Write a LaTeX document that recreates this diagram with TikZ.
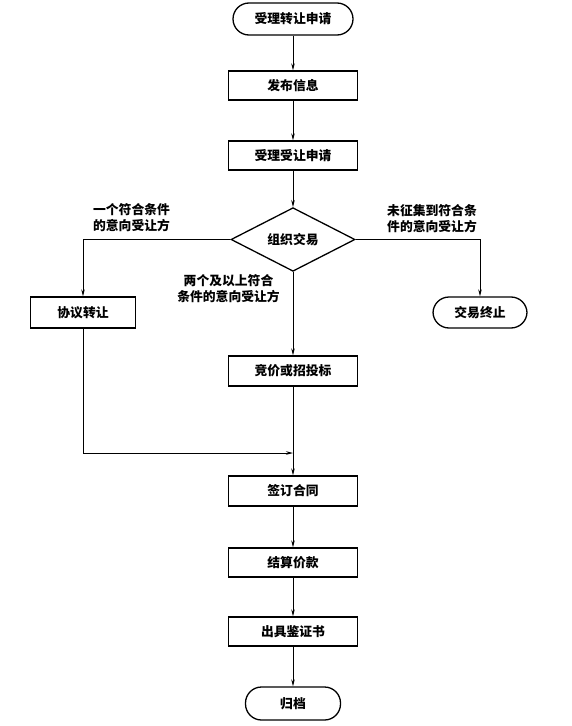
\documentclass[tikz,border=0pt]{standalone}
\usepackage{fontspec}
\setmainfont{Noto Sans CJK SC}
\usepackage{tikz}
\usetikzlibrary{shapes.geometric,arrows.meta}
\tikzstyle{block}=[rectangle,draw,line width=1.3bp,minimum width=129bp,minimum height=29bp,inner sep=0pt]
\tikzstyle{term}=[rectangle,draw,rounded corners=16bp,line width=1.3bp,minimum height=32bp,inner sep=0pt]
\tikzstyle{decision}=[diamond,draw,line width=1.3bp,minimum width=124bp,minimum height=61bp,inner sep=0pt]
\tikzstyle{link}=[line width=0.8bp,-{Stealth[length=7bp,width=3.5bp]}]

\begin{document}
\begin{tikzpicture}[x=1bp,y=-1bp,font=\fontsize{12.8bp}{16bp}\selectfont\bfseries]
\useasboundingbox (0,0) rectangle (572,726);

\node[term,minimum width=120bp] (start) at (293,19) {受理转让申请};
\node[block] (fabu) at (293,85.5) {发布信息};
\node[block] (shouli) at (293,155.5) {受理受让申请};
\node[decision] (zuzhi) at (293,239.5) {组织交易};
\node[block,minimum width=105bp,minimum height=31bp] (xieyi) at (83,312.5) {协议转让};
\node[term,minimum width=94bp,minimum height=31bp] (zhongzhi) at (480,312.5) {交易终止};
\node[block,minimum height=30bp] (jingjia) at (293,371) {竞价或招投标};
\node[block,minimum height=30bp] (qianding) at (293,491) {签订合同};
\node[block] (jiesuan) at (293,562.5) {结算价款};
\node[block] (chuju) at (293,631.5) {出具鉴证书};
\node[term,minimum width=95bp,minimum height=33bp] (guidang) at (293,703.5) {归档};
\coordinate (merge) at (293,453);

\node[align=center] (l1) at (131.5,218) {一个符合条件\\的意向受让方};
\node[align=center] (l2) at (228.5,289) {两个及以上符合\\条件的意向受让方};
\node[align=center] (l3) at (432,219) {未征集到符合条\\件的意向受让方};

\draw[link] (start) -- (fabu);
\draw[link] (fabu) -- (shouli);
\draw[link] (shouli) -- (zuzhi);
\draw[link] (zuzhi.west) -| (xieyi.north);
\draw[link] (zuzhi.east) -| (zhongzhi.north);
\draw[link] (zuzhi) -- (jingjia);
\draw[link] (xieyi.south) |- (merge);
\draw[link] (jingjia) -- (qianding);
\draw[link] (qianding) -- (jiesuan);
\draw[link] (jiesuan) -- (chuju);
\draw[link] (chuju) -- (guidang);
\end{tikzpicture}
\end{document}
